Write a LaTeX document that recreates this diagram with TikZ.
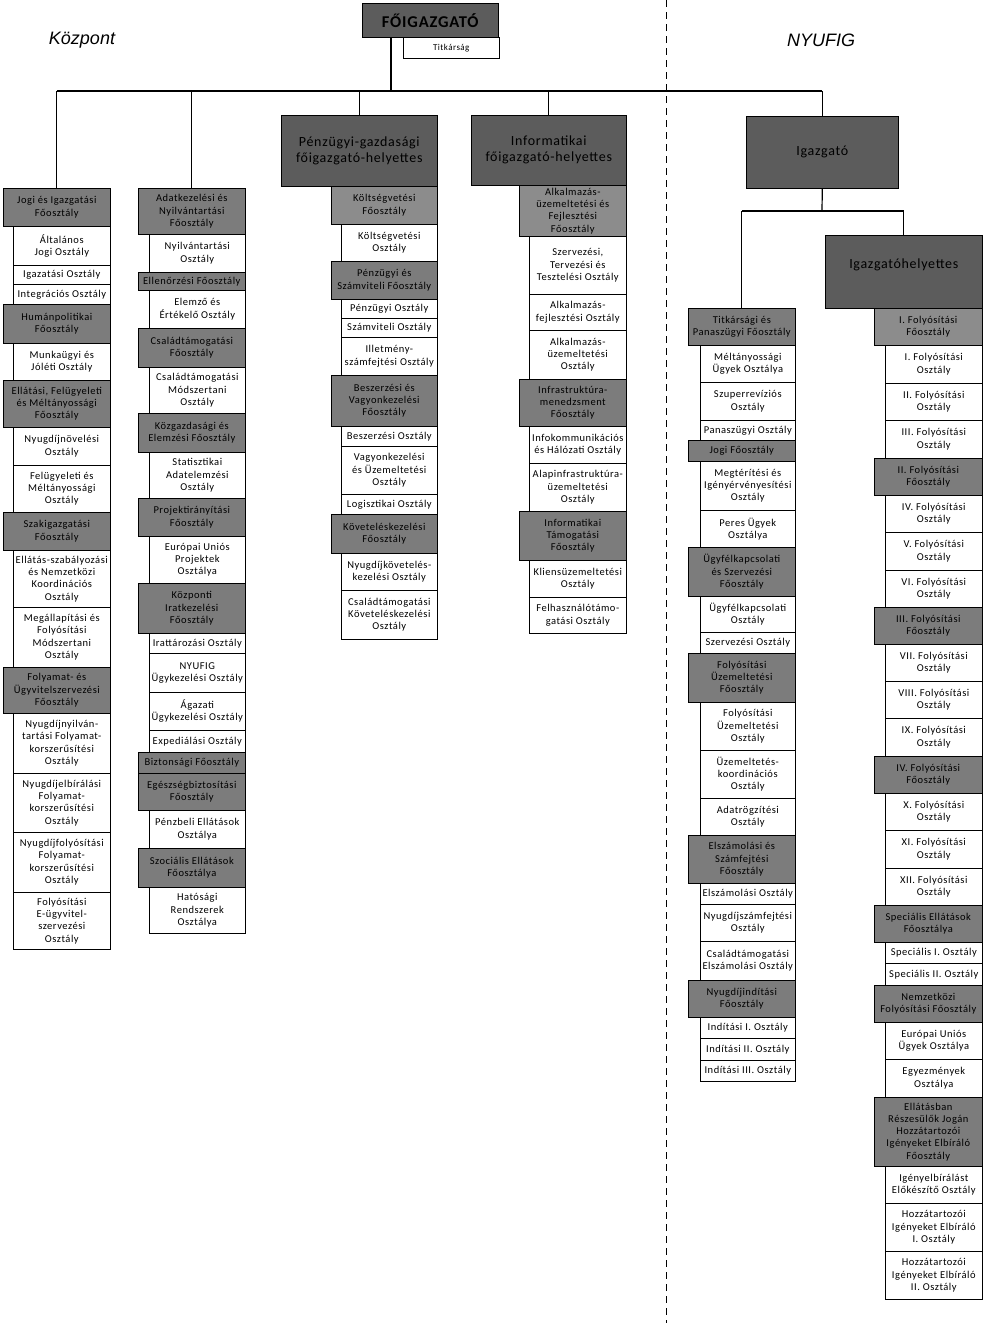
\documentclass[tikz,border=0pt]{standalone}
\usepackage{fontspec}
\setmainfont{Carlito}[LetterSpace=5]
\newfontfamily\labfont{Liberation Sans}
\usetikzlibrary{positioning}
\definecolor{bigc}{RGB}{92,92,92}
\definecolor{foc}{RGB}{124,124,124}
\definecolor{focl}{RGB}{140,140,140}
\tikzset{
  base/.style={draw=black, line width=0.6pt, inner sep=0.5pt, align=center, anchor=north west,
     font=\fontsize{10.5}{12.3}\selectfont},
  wb/.style={base, fill=white},
  gb/.style={base, fill=foc},
  gl/.style={base, fill=focl},
  bigbox/.style={base, fill=bigc, font=\fontsize{14}{16}\selectfont},
  bus/.style={line width=2pt},
  drop/.style={line width=1.2pt},
  sideline/.style={line width=1pt},
  divider/.style={line width=1pt, dash pattern=on 7pt off 5pt},
  title/.style={font=\labfont\itshape\fontsize{18}{20}\selectfont}
}
\newcommand\ob[7]{\node[#1, minimum width={(#4-#3)*1pt}, minimum height={(#6-#5)*1pt}] (#2) at (#3,#5) {#7};}
\begin{document}
\begin{tikzpicture}[x=1pt,y=-1pt]
\useasboundingbox (0,0) rectangle (985,1323);
\fill[white] (0,0) rectangle (985,1323);

% divider
\coordinate (dtop) at (666,0);
\coordinate (dbot) at (666,1323);
\draw[divider] (dtop) -- (dbot);

\node[title] (kp) at (82,40) {Központ};
\node[title] (ny) at (821,40) {NYUFIG};

% top
\ob{bigbox, font=\bfseries\fontsize{16.5}{18}\selectfont}{fg}{362}{498}{3}{37}{FŐIGAZGATÓ}
\ob{wb, font=\fontsize{9}{10}\selectfont}{tk}{403}{499}{37}{58}{Titkárság}

% big boxes
\ob{bigbox}{c3}{281}{437}{115}{186}{Pénzügyi-gazdasági\\főigazgató-helyettes}
\ob{bigbox}{c4}{471}{626}{115}{185}{Informatikai\\főigazgató-helyettes}
\ob{bigbox}{ig}{746}{898}{116}{188}{Igazgató}
\node[base, fill=bigc, minimum width=157pt, minimum height=73pt,
  label={[font=\fontsize{14}{16}\selectfont, yshift=7pt]center:Igazgatóhelyettes}] (igh) at (825,235) {};

% column 1
\ob{gb}{c1a}{3}{110}{188}{226}{Jogi és Igazgatási\\Főosztály}
\ob{wb}{c1b}{13}{110}{226}{265}{Általános\\Jogi Osztály}
\ob{wb}{c1c}{13}{110}{265}{284}{Igazatási Osztály}
\ob{wb}{c1d}{13}{110}{284}{304}{Integrációs Osztály}
\ob{gb}{c1e}{3}{110}{304}{343}{Humánpolitikai\\Főosztály}
\ob{wb}{c1f}{13}{110}{343}{380}{Munkaügyi és\\Jóléti Osztály}
\ob{gb}{c1g}{3}{110}{380}{427}{Ellátási, Felügyeleti\\és Méltányossági\\Főosztály}
\ob{wb}{c1h}{13}{110}{427}{465}{Nyugdíjnövelési\\Osztály}
\ob{wb}{c1i}{13}{110}{465}{512}{Felügyeleti és\\Méltányossági\\Osztály}
\ob{gb}{c1j}{3}{110}{512}{550}{Szakigazgatási\\Főosztály}
\ob{wb}{c1k}{13}{110}{550}{607}{Ellátás-szabályozási\\és Nemzetközi\\Koordinációs\\Osztály}
\ob{wb}{c1l}{13}{110}{607}{667}{Megállapítási és\\Folyósítási\\Módszertani\\Osztály}
\ob{gb}{c1m}{3}{110}{667}{713}{Folyamat- és\\Ügyvitelszervezési\\Főosztály}
\ob{wb}{c1n}{13}{110}{713}{773}{Nyugdíjnyilván-\\tartási Folyamat-\\korszerűsítési\\Osztály}
\ob{wb}{c1o}{13}{110}{773}{832}{Nyugdíjelbírálási\\Folyamat-\\korszerűsítési\\Osztály}
\ob{wb}{c1p}{13}{110}{832}{892}{Nyugdíjfolyósítási\\Folyamat-\\korszerűsítési\\Osztály}
\ob{wb}{c1q}{13}{110}{892}{949}{Folyósítási\\E-ügyvitel-\\szervezési\\Osztály}

% column 2
\ob{gb}{c2a}{138}{245}{188}{234}{Adatkezelési és\\Nyilvántartási\\Főosztály}
\ob{wb}{c2b}{149}{245}{234}{272}{Nyilvántartási\\Osztály}
\ob{gb}{c2c}{138}{245}{272}{290}{Ellenőrzési Főosztály}
\ob{wb}{c2d}{149}{245}{290}{328}{Elemző és\\Értékelő Osztály}
\ob{gb}{c2e}{138}{245}{328}{367}{Családtámogatási\\Főosztály}
\ob{wb}{c2f}{149}{245}{367}{413}{Családtámogatási\\Módszertani\\Osztály}
\ob{gb}{c2g}{138}{245}{413}{452}{Közgazdasági és\\Elemzési Főosztály}
\ob{wb}{c2h}{149}{245}{452}{498}{Statisztikai\\Adatelemzési\\Osztály}
\ob{gb}{c2i}{138}{245}{498}{536}{Projektirányítási\\Főosztály}
\ob{wb}{c2j}{149}{245}{536}{583}{Európai Uniós\\Projektek\\Osztálya}
\ob{gb}{c2k}{138}{245}{583}{633}{Központi\\Iratkezelési\\Főosztály}
\ob{wb}{c2l}{149}{245}{633}{653}{Irattározási Osztály}
\ob{wb}{c2m}{149}{245}{653}{692}{NYUFIG\\Ügykezelési Osztály}
\ob{wb}{c2n}{149}{245}{692}{730}{Ágazati\\Ügykezelési Osztály}
\ob{wb}{c2o}{149}{245}{730}{752}{Expediálási Osztály}
\ob{gb}{c2p}{138}{245}{752}{773}{Biztonsági Főosztály}
\ob{gb}{c2q}{138}{245}{773}{810}{Egészségbiztosítási\\Főosztály}
\ob{wb}{c2r}{149}{245}{810}{848}{Pénzbeli Ellátások\\Osztálya}
\ob{gb}{c2s}{138}{245}{848}{887}{Szociális Ellátások\\Főosztálya}
\ob{wb}{c2t}{149}{245}{887}{933}{Hatósági\\Rendszerek\\Osztálya}

% column 3
\ob{gl}{c3a}{331}{437}{186}{224}{Költségvetési\\Főosztály}
\ob{wb}{c3b}{341}{437}{224}{261}{Költségvetési\\Osztály}
\ob{gb}{c3c}{331}{437}{261}{299}{Pénzügyi és\\Számviteli Főosztály}
\ob{wb}{c3d}{341}{437}{299}{318}{Pénzügyi Osztály}
\ob{wb}{c3e}{341}{437}{318}{337}{Számviteli Osztály}
\ob{wb}{c3f}{341}{437}{337}{375}{Illetmény-\\számfejtési Osztály}
\ob{gb}{c3g}{331}{437}{375}{426}{Beszerzési és\\Vagyonkezelési\\Főosztály}
\ob{wb}{c3h}{341}{437}{426}{446}{Beszerzési Osztály}
\ob{wb}{c3i}{341}{437}{446}{494}{Vagyonkezelési\\és Üzemeltetési\\Osztály}
\ob{wb}{c3j}{341}{437}{494}{514}{Logisztikai Osztály}
\ob{gb}{c3k}{331}{437}{514}{553}{Követeléskezelési\\Főosztály}
\ob{wb}{c3l}{341}{437}{553}{590}{Nyugdíjkövetelés-\\kezelési Osztály}
\ob{wb}{c3m}{341}{437}{590}{639}{Családtámogatási\\Követeléskezelési\\Osztály}

% column 4
\ob{gl}{c4a}{519}{626}{185}{236}{Alkalmazás-\\üzemeltetési és\\Fejlesztési\\Főosztály}
\ob{wb}{c4b}{529}{626}{236}{294}{Szervezési,\\Tervezési és\\Tesztelési Osztály}
\ob{wb}{c4c}{529}{626}{294}{330}{Alkalmazás-\\fejlesztési Osztály}
\ob{wb}{c4d}{529}{626}{330}{379}{Alkalmazás-\\üzemeltetési\\Osztály}
\ob{gb}{c4e}{519}{626}{379}{426}{Infrastruktúra-\\menedzsment\\Főosztály}
\ob{wb}{c4f}{529}{626}{426}{463}{Infokommunikációs\\és Hálózati Osztály}
\ob{wb}{c4g}{529}{626}{463}{511}{Alapinfrastruktúra-\\üzemeltetési\\Osztály}
\ob{gb}{c4h}{519}{626}{511}{560}{Informatikai\\Támogatási\\Főosztály}
\ob{wb}{c4i}{529}{626}{560}{597}{Kliensüzemeltetési\\Osztály}
\ob{wb}{c4j}{529}{626}{597}{633}{Felhasználótámo-\\gatási Osztály}

% column 5
\ob{gb}{c5a}{688}{795}{308}{345}{Titkársági és\\Panaszügyi Főosztály}
\ob{wb}{c5b}{700}{795}{345}{382}{Méltányossági\\Ügyek Osztálya}
\ob{wb}{c5c}{700}{795}{382}{420}{Szuperrevíziós\\Osztály}
\ob{wb}{c5d}{700}{795}{420}{440}{Panaszügyi Osztály}
\ob{gb}{c5e}{688}{795}{440}{461}{Jogi Főosztály}
\ob{wb}{c5f}{700}{795}{461}{510}{Megtérítési és\\Igényérvényesítési\\Osztály}
\ob{wb}{c5g}{700}{795}{510}{547}{Peres Ügyek\\Osztálya}
\ob{gb}{c5h}{688}{795}{547}{596}{Ügyfélkapcsolati\\és Szervezési\\Főosztály}
\ob{wb}{c5i}{700}{795}{596}{632}{Ügyfélkapcsolati\\Osztály}
\ob{wb}{c5j}{700}{795}{632}{653}{Szervezési Osztály}
\ob{gb}{c5k}{688}{795}{653}{702}{Folyósítási\\Üzemeltetési\\Főosztály}
\ob{wb}{c5l}{700}{795}{702}{750}{Folyósítási\\Üzemeltetési\\Osztály}
\ob{wb}{c5m}{700}{795}{750}{798}{Üzemeltetés-\\koordinációs\\Osztály}
\ob{wb}{c5n}{700}{795}{798}{835}{Adatrögzítési\\Osztály}
\ob{gb}{c5o}{688}{795}{835}{883}{Elszámolási és\\Számfejtési\\Főosztály}
\ob{wb}{c5p}{700}{795}{883}{904}{Elszámolási Osztály}
\ob{wb}{c5q}{700}{795}{904}{941}{Nyugdíjszámfejtési\\Osztály}
\ob{wb}{c5r}{700}{795}{941}{980}{Családtámogatási\\Elszámolási Osztály}
\ob{gb}{c5s}{688}{795}{980}{1017}{Nyugdíjindítási\\Főosztály}
\ob{wb}{c5t}{700}{795}{1017}{1038}{Indítási I. Osztály}
\ob{wb}{c5u}{700}{795}{1038}{1060}{Indítási II. Osztály}
\ob{wb}{c5v}{700}{795}{1060}{1081}{Indítási III. Osztály}

% column 6
\ob{gl}{c6a}{874}{982}{308}{345}{I. Folyósítási\\Főosztály}
\ob{wb}{c6b}{885}{982}{345}{383}{I. Folyósítási\\Osztály}
\ob{wb}{c6c}{885}{982}{383}{420}{II. Folyósítási\\Osztály}
\ob{wb}{c6d}{885}{982}{420}{458}{III. Folyósítási\\Osztály}
\ob{gb}{c6e}{874}{982}{458}{495}{II. Folyósítási\\Főosztály}
\ob{wb}{c6f}{885}{982}{495}{532}{IV. Folyósítási\\Osztály}
\ob{wb}{c6g}{885}{982}{532}{570}{V. Folyósítási\\Osztály}
\ob{wb}{c6h}{885}{982}{570}{607}{VI. Folyósítási\\Osztály}
\ob{gb}{c6i}{874}{982}{607}{644}{III. Folyósítási\\Főosztály}
\ob{wb}{c6j}{885}{982}{644}{681}{VII. Folyósítási\\Osztály}
\ob{wb}{c6k}{885}{982}{681}{718}{VIII. Folyósítási\\Osztály}
\ob{wb}{c6l}{885}{982}{718}{756}{IX. Folyósítási\\Osztály}
\ob{gb}{c6m}{874}{982}{756}{793}{IV. Folyósítási\\Főosztály}
\ob{wb}{c6n}{885}{982}{793}{830}{X. Folyósítási\\Osztály}
\ob{wb}{c6o}{885}{982}{830}{868}{XI. Folyósítási\\Osztály}
\ob{wb}{c6p}{885}{982}{868}{905}{XII. Folyósítási\\Osztály}
\ob{gb}{c6q}{874}{982}{905}{942}{Speciális Ellátások\\Főosztálya}
\ob{wb}{c6r}{885}{982}{942}{963}{Speciális I. Osztály}
\ob{wb}{c6s}{885}{982}{963}{985}{Speciális II. Osztály}
\ob{gb}{c6t}{874}{982}{985}{1022}{Nemzetközi\\Folyósítási Főosztály}
\ob{wb}{c6u}{885}{982}{1022}{1059}{Európai Uniós\\Ügyek Osztálya}
\ob{wb}{c6v}{885}{982}{1059}{1097}{Egyezmények\\Osztálya}
\ob{gb}{c6w}{874}{982}{1097}{1166}{Ellátásban\\Részesülők Jogán\\Hozzátartozói\\Igényeket Elbíráló\\Főosztály}
\ob{wb}{c6x}{885}{982}{1166}{1203}{Igényelbírálást\\Előkészítő Osztály}
\ob{wb}{c6y}{885}{982}{1203}{1251}{Hozzátartozói\\Igényeket Elbíráló\\I. Osztály}
\ob{wb}{c6z}{885}{982}{1251}{1299}{Hozzátartozói\\Igényeket Elbíráló\\II. Osztály}

% connectors
\coordinate (trunk) at (391,91);
\coordinate (sub) at (822,211);
\draw[line width=2.5pt] (fg.south -| trunk) -- (trunk);
\draw[bus] (c1a.north |- trunk) -- (ig.north |- trunk);
\draw[sideline] (c1a.north |- trunk) -- (c1a.north);
\draw[sideline] (c2a.north |- trunk) -- (c2a.north);
\draw[drop] (c3.north |- trunk) -- (c3.north);
\draw[drop] (c4.north |- trunk) -- (c4.north);
\draw[drop] (ig.north |- trunk) -- (ig.north);
\draw[drop] (ig.south) -- (sub);
\draw[drop] (c5a.north |- sub) -- (igh.north |- sub);
\draw[drop] (c5a.north |- sub) -- (c5a.north);
\draw[drop] (igh.north |- sub) -- (igh.north);
\end{tikzpicture}
\end{document}
